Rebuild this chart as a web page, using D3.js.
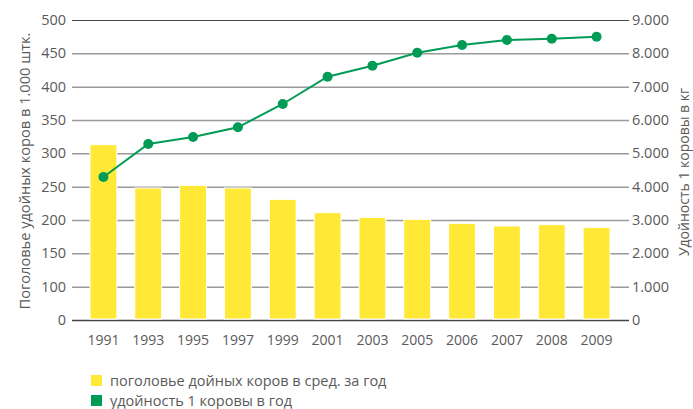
<!DOCTYPE html>
<html>
<head>
<meta charset="utf-8">
<script src="https://cdn.jsdelivr.net/npm/d3@7"></script>
<style>
  body { margin: 0; background: #fff; }
  svg text { font-family: "Open Sans", sans-serif; fill: #5a5a5a; }
</style>
</head>
<body>
<div id="chart"></div>
<script>
// data
var years = ["1991","1993","1995","1997","1999","2001","2003","2005","2006","2007","2008","2009"];
var cows = [313, 248, 252, 248, 231, 211, 204, 201, 195, 191, 193, 189];      // 1.000 head
var milk = [4290, 5280, 5490, 5780, 6480, 7300, 7630, 8020, 8250, 8400, 8440, 8500]; // kg per cow
var leftTicks = [0, 100, 150, 200, 250, 300, 350, 400, 450, 500];
var rightTicks = [0, 1000, 2000, 3000, 4000, 5000, 6000, 7000, 8000, 9000];
var legendItems = ["поголовье дойных коров в сред. за год", "удойность 1 коровы в год"];

var width = 693, height = 409;
var plot = { left: 81, right: 619, top: 20, bottom: 320 };
var gridLeft = 72, gridRight = 629;
var yellow = "#ffe936", green = "#009b55";

var svg = d3.select("#chart").append("svg")
    .attr("width", width)
    .attr("height", height);

var x = d3.scaleBand()
    .domain(years)
    .range([plot.left, plot.right])
    .paddingInner(0.4)
    .paddingOuter(0.2);

// left axis is not linear in the original: 0, then 100..500 in steps of 50
var yL = d3.scaleLinear()
    .domain([0, 100, 500])
    .range([plot.bottom, plot.bottom - (plot.bottom - plot.top) / 9, plot.top]);

var yR = d3.scaleLinear()
    .domain([0, 9000])
    .range([plot.bottom, plot.top]);

var ru = d3.formatLocale({ decimal: ",", thousands: ".", grouping: [3], currency: ["", ""] });

// gridlines + left labels
var leftAxis = svg.append("g")
    .attr("transform", `translate(${gridLeft},0)`)
    .call(d3.axisLeft(yL).tickValues(leftTicks).tickSize(-(gridRight - gridLeft)).tickPadding(6));
leftAxis.select(".domain").remove();
leftAxis.selectAll(".tick line")
    .attr("stroke", function(d){ return (d === 0 || d === 500) ? "#444" : "#9a9a9a"; })
    .attr("stroke-width", function(d){ return d === 0 ? 1.6 : (d === 500 ? 1.2 : 1.5); });
leftAxis.selectAll("text").style("font-size", "14.5px").attr("fill", "#5a5a5a");

var rightAxis = svg.append("g")
    .attr("transform", `translate(${gridRight},0)`)
    .call(d3.axisRight(yR).tickValues(rightTicks).tickSize(0).tickPadding(3).tickFormat(ru.format(",")));
rightAxis.select(".domain").remove();
rightAxis.selectAll("text").style("font-size", "14.5px").attr("fill", "#5a5a5a");

// bars
svg.selectAll(".bar")
    .data(cows)
    .join("rect")
    .attr("class", "bar")
    .attr("x", function(d, i){ return x(years[i]); })
    .attr("width", x.bandwidth())
    .attr("y", function(d){ return yL(d); })
    .attr("height", function(d){ return plot.bottom - 1 - yL(d); })
    .attr("fill", yellow)
    .attr("stroke", "#fff")
    .attr("stroke-width", 1);

// x labels
svg.selectAll(".xlab")
    .data(years)
    .join("text")
    .attr("class", "xlab")
    .attr("x", function(d){ return x(d) + x.bandwidth() / 2; })
    .attr("y", 345)
    .attr("text-anchor", "middle")
    .style("font-size", "14px")
    .text(function(d){ return d; });

// milk yield line
var line = d3.line()
    .x(function(d, i){ return x(years[i]) + x.bandwidth() / 2; })
    .y(function(d){ return yR(d); });

svg.append("path")
    .datum(milk)
    .attr("fill", "none")
    .attr("stroke", green)
    .attr("stroke-width", 2)
    .attr("d", line);

svg.selectAll(".dot")
    .data(milk)
    .join("circle")
    .attr("class", "dot")
    .attr("cx", function(d, i){ return x(years[i]) + x.bandwidth() / 2; })
    .attr("cy", function(d){ return yR(d); })
    .attr("r", 5)
    .attr("fill", green);

// axis titles
svg.append("text")
    .attr("transform", "translate(30,171) rotate(-90)")
    .attr("text-anchor", "middle")
    .style("font-size", "14.6px")
    .text("Поголовье удойных коров в 1.000 штк.");

svg.append("text")
    .attr("transform", "translate(689,172) rotate(-90)")
    .attr("text-anchor", "middle")
    .style("font-size", "14px")
    .text("Удойность 1 коровы в кг");

// legend
var legend = svg.selectAll(".legend")
    .data(legendItems)
    .join("g")
    .attr("class", "legend")
    .attr("transform", function(d, i){ return `translate(91,${375 + i * 20})`; });

legend.append("rect")
    .attr("width", 11)
    .attr("height", 11)
    .attr("fill", function(d, i){ return i === 0 ? yellow : green; });

legend.append("text")
    .attr("x", 19)
    .attr("y", 10.5)
    .style("font-size", "14.5px")
    .text(function(d){ return d; });
</script>
</body>
</html>
